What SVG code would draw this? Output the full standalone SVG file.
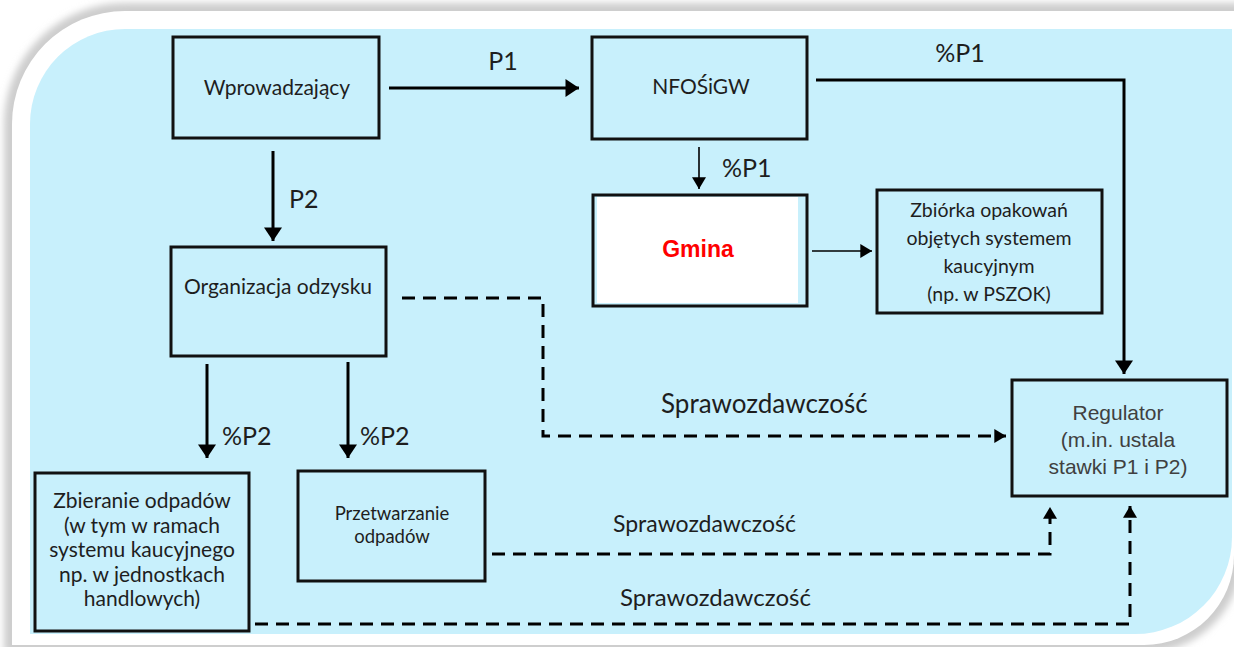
<svg xmlns="http://www.w3.org/2000/svg" width="1234" height="647" viewBox="0 0 1234 647">
<defs>
<filter id="blur" x="-5%" y="-5%" width="110%" height="110%"><feGaussianBlur stdDeviation="3.5"/></filter>
<marker id="ah" markerUnits="userSpaceOnUse" markerWidth="18" markerHeight="18" viewBox="0 0 12 16" refX="12" refY="8" orient="auto"><path d="M0,0 L12,8 L0,16 Z" fill="#000"/></marker>
<marker id="ahs" markerUnits="userSpaceOnUse" markerWidth="14" markerHeight="14" viewBox="0 0 10 12" refX="10" refY="6" orient="auto"><path d="M0,0 L10,6 L0,12 Z" fill="#000"/></marker>
<style>
.box{fill:none;stroke:#111;stroke-width:3}
.t{font-family:Lato,"Open Sans","Liberation Sans",sans-serif;fill:#1e1e1e;text-anchor:middle}
.bt{font-size:21px}
.lb{font-size:25px;text-anchor:start}
.thick{fill:none;stroke:#000;stroke-width:3;marker-end:url(#ah)}
.thin{fill:none;stroke:#000;stroke-width:1.6;marker-end:url(#ahs)}
.dash{fill:none;stroke:#000;stroke-width:3;stroke-dasharray:13 8;marker-end:url(#ahs)}
</style>
</defs>
<rect width="1234" height="647" fill="#ffffff"/>
<path d="M12,124 A113,113 0 0 1 125,11 H1234 V555 A90,90 0 0 1 1144,645 H12 Z" fill="#cdcdcd" stroke="#cdcdcd" stroke-width="16" filter="url(#blur)"/>
<path d="M12,124 A113,113 0 0 1 125,11 H1234 V555 A90,90 0 0 1 1144,645 H12 Z" fill="#ffffff"/>
<path d="M30,124 A95,95 0 0 1 125,29 H1232 V537 A97,97 0 0 1 1135,634 H30 Z" fill="#c8f0fc"/>

<g id="connectors">
<path class="thick" d="M389,88 H579"/>
<path class="thick" d="M273,151 V241"/>
<path class="thin" d="M699,147 V189"/>
<path class="thick" d="M816,80 H1124 V374" />
<path class="thin" d="M812,251 H872"/>
<path class="thick" d="M207,364 V458"/>
<path class="thick" d="M348,362 V458"/>
<path class="dash" d="M402,298 H543 V436 H1006"/>
<path class="dash" d="M492,554 H1050 V507"/>
<path class="dash" d="M255,624 H1130 V506"/>
<text class="t lb" x="503" y="70" style="text-anchor:middle">P1</text>
<text class="t lb" x="960" y="62" style="text-anchor:middle">%P1</text>
<text class="t lb" x="289" y="208">P2</text>
<text class="t lb" x="722" y="177">%P1</text>
<text class="t lb" x="222" y="445">%P2</text>
<text class="t lb" x="360" y="445">%P2</text>
<text class="t lb" x="661" y="413" style="font-size:26px">Sprawozdawczość</text>
<text class="t lb" x="613" y="532" style="font-size:23px">Sprawozdawczość</text>
<text class="t lb" x="620" y="606" style="font-size:24px">Sprawozdawczość</text>
</g>

<g id="wprowadzajacy">
<rect class="box" x="173" y="37" width="206" height="101"/>
<text class="t bt" x="277" y="95">Wprowadzający</text>
</g>
<g id="nfosigw">
<rect class="box" x="592" y="37" width="215" height="102"/>
<text class="t bt" x="701" y="94">NFOŚiGW</text>
</g>
<g id="gmina">
<rect class="box" x="593" y="195" width="214" height="111"/>
<rect x="597" y="197" width="201" height="106" fill="#ffffff"/>
<text x="698" y="257" style="font-family:'Liberation Sans',Arial,sans-serif;font-weight:bold;font-size:23px;fill:#ff0000;text-anchor:middle">Gmina</text>
</g>
<g id="zbiorka">
<rect class="box" x="877" y="190" width="225" height="123"/>
<text class="t" x="989" y="217" style="font-size:19.5px">Zbiórka opakowań</text>
<text class="t" x="989" y="245" style="font-size:19.5px">objętych systemem</text>
<text class="t" x="989" y="273" style="font-size:19.5px">kaucyjnym</text>
<text class="t" x="989" y="301" style="font-size:19.5px">(np. w PSZOK)</text>
</g>
<g id="organizacja">
<rect class="box" x="171" y="247" width="215" height="109"/>
<text class="t bt" x="278" y="294">Organizacja odzysku</text>
</g>
<g id="zbieranie">
<rect class="box" x="35" y="473" width="214" height="158"/>
<text class="t bt" x="142" y="508">Zbieranie odpadów</text>
<text class="t bt" x="142" y="532.5">(w tym w ramach</text>
<text class="t bt" x="142" y="557">systemu kaucyjnego</text>
<text class="t bt" x="142" y="581.5">np. w jednostkach</text>
<text class="t bt" x="142" y="606">handlowych)</text>
</g>
<g id="przetwarzanie">
<rect class="box" x="298" y="471" width="187" height="110"/>
<text class="t" x="392" y="520" style="font-size:18.5px">Przetwarzanie</text>
<text class="t" x="392" y="543" style="font-size:18.5px">odpadów</text>
</g>
<g id="regulator">
<rect class="box" x="1012" y="380" width="215" height="116"/>
<text x="1118" y="420" style="font-family:'Liberation Sans',Arial,sans-serif;font-size:21px;fill:#404040;text-anchor:middle">Regulator</text>
<text x="1118" y="447" style="font-family:'Liberation Sans',Arial,sans-serif;font-size:21px;fill:#404040;text-anchor:middle">(m.in. ustala</text>
<text x="1118" y="474" style="font-family:'Liberation Sans',Arial,sans-serif;font-size:21px;fill:#404040;text-anchor:middle">stawki P1 i P2)</text>
</g>
</svg>
